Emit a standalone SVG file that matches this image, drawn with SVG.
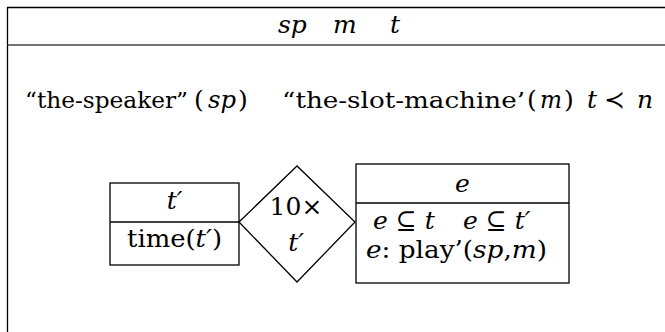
<svg xmlns="http://www.w3.org/2000/svg" width="665" height="332" viewBox="0 0 665 332">
<style>
text{font-family:"DejaVu Serif","Liberation Serif","Noto Serif","Times New Roman",Times,serif;font-size:25px;fill:#000}
.i{font-style:italic}
.m{text-anchor:middle}
.s{font-size:23px}
.ln{fill:none;stroke:#000;stroke-width:1.3}
.sep{fill:none;stroke:#444;stroke-width:1.6}
</style>
<g id="frame">
<path class="ln" d="M7.5,332 V7.5 H665"/>
<line class="sep" x1="7.5" y1="45" x2="665" y2="45"/>
<text class="i" x="278" y="33">sp</text>
<text class="i" x="333" y="33">m</text>
<text class="i" x="390" y="33">t</text>
<text class="s" x="25" y="108" textLength="163" lengthAdjust="spacingAndGlyphs">“the-speaker”</text>
<text x="194" y="108">(</text>
<text class="i" x="208" y="108" textLength="28" lengthAdjust="spacingAndGlyphs">sp</text>
<text x="238" y="108">)</text>
<text class="s" x="282" y="108" textLength="243" lengthAdjust="spacingAndGlyphs">“the-slot-machine’</text>
<text x="527" y="108">(</text>
<text class="i" x="540" y="108" textLength="22" lengthAdjust="spacingAndGlyphs">m</text>
<text x="564" y="108">)</text>
<text class="i" x="587" y="108">t</text>
<text x="614" y="108" class="m">≺</text>
<text class="i" x="637" y="108">n</text>
</g>
<g id="node-tprime">
<rect class="ln" x="110" y="183" width="129" height="82"/>
<line class="ln" x1="110" y1="222" x2="239" y2="222"/>
<text class="m i" x="174.5" y="209">t′</text>
<text class="m" x="174.5" y="247" textLength="95" lengthAdjust="spacingAndGlyphs">time(<tspan class="i">t′</tspan>)</text>
</g>
<g id="node-diamond">
<polygon class="ln" points="239,222 297,166 355,222 297,282"/>
<text class="m" x="296" y="215">10×</text>
<text class="m i" x="296" y="251">t′</text>
</g>
<g id="node-e">
<rect class="ln" x="356" y="164" width="213" height="119"/>
<line class="ln" x1="356" y1="203" x2="569" y2="203"/>
<text class="m i" x="462.5" y="192">e</text>
<text x="373" y="229"><tspan class="i">e</tspan> ⊆ <tspan class="i">t</tspan></text>
<text x="463" y="229"><tspan class="i">e</tspan> ⊆ <tspan class="i">t′</tspan></text>
<text class="m" x="456.5" y="258" textLength="181" lengthAdjust="spacingAndGlyphs"><tspan class="i">e</tspan>: play’(<tspan class="i">sp</tspan>,<tspan class="i">m</tspan>)</text>
</g>
<g id="connectors"/>
</svg>
